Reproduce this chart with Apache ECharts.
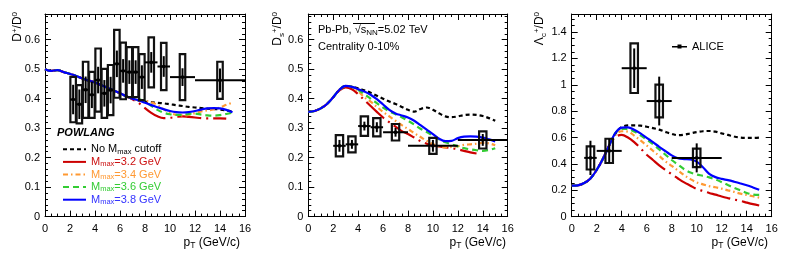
<!DOCTYPE html>
<html><head><meta charset="utf-8">
<script src="https://cdn.jsdelivr.net/npm/echarts@6/dist/echarts.min.js"></script>
<style>html,body{margin:0;padding:0;background:#fff}#c{width:789px;height:260px}</style>
</head><body><div id="c"></div>
<script>
// ---------------- data ----------------
const pt = [0,0.5,1,1.5,2,2.5,3,3.5,4,4.5,5,5.5,6,6.5,7,7.5,8,8.5,9,9.5,10,10.5,11,11.5,12,12.5,13,13.5,14,14.5,15];
const xTicks = [0,2,4,6,8,10,12,14,16];

// Panel 1: D+/D0 POWLANG
const p1NoCut = [0.500,0.494,0.497,0.490,0.484,0.477,0.468,0.461,0.455,0.446,0.437,0.428,0.418,0.408,0.400,0.394,0.390,0.388,0.386,0.384,0.381,0.378,0.375,0.372,0.370,0.368,0.366,0.365,0.363,0.360,0.356];
const p1M32   = [0.500,0.494,0.497,0.490,0.484,0.477,0.468,0.461,0.455,0.446,0.437,0.428,0.418,0.408,0.398,0.385,0.368,0.352,0.340,0.334,0.335,0.338,0.340,0.338,0.336,0.334,0.333,0.333,0.333,0.332,null];
const p1M34   = [0.500,0.494,0.497,0.490,0.484,0.477,0.468,0.461,0.455,0.446,0.437,0.428,0.418,0.408,0.400,0.392,0.392,0.388,0.378,0.364,0.352,0.345,0.343,0.345,0.351,0.357,0.360,0.363,0.370,0.379,0.386];
const p1M36   = [0.500,0.494,0.497,0.490,0.484,0.477,0.468,0.461,0.455,0.446,0.437,0.428,0.418,0.408,0.402,0.398,0.390,0.376,0.362,0.352,0.347,0.345,0.345,0.348,0.349,0.346,0.343,0.342,0.344,0.348,0.352];
const p1M38   = [0.500,0.494,0.497,0.490,0.484,0.477,0.468,0.461,0.455,0.446,0.437,0.428,0.418,0.408,0.400,0.394,0.386,0.378,0.371,0.364,0.358,0.354,0.353,0.354,0.358,0.363,0.367,0.368,0.367,0.362,0.354];

// Panel 2: Ds+/D0 POWLANG
const p2NoCut = [0.355,0.358,0.367,0.382,0.405,0.430,0.443,0.440,0.435,0.428,0.420,0.410,0.400,0.390,0.382,0.372,0.362,0.356,0.365,0.370,0.362,0.350,0.340,0.337,0.340,0.344,0.346,0.345,0.341,0.334,0.325];
const p2M32   = [0.355,0.358,0.367,0.382,0.405,0.428,0.438,0.432,0.415,0.395,0.375,0.355,0.336,0.320,0.305,0.290,0.280,0.268,0.256,0.247,0.241,0.238,0.235,0.232,0.228,0.223,0.218,0.214,null,null,null];
const p2M34   = [0.355,0.358,0.367,0.382,0.405,0.430,0.443,0.440,0.425,0.405,0.390,0.372,0.355,0.340,0.325,0.310,0.297,0.283,0.270,0.257,0.246,0.238,0.235,0.236,0.239,0.243,0.245,0.247,0.250,0.248,0.242];
const p2M36   = [0.355,0.358,0.367,0.382,0.405,0.430,0.443,0.440,0.430,0.415,0.400,0.385,0.370,0.357,0.347,0.337,0.325,0.312,0.298,0.287,0.274,0.262,0.252,0.245,0.238,0.232,0.228,0.225,0.223,0.226,0.232];
const p2M38   = [0.355,0.358,0.367,0.382,0.405,0.430,0.443,0.440,0.432,0.424,0.413,0.398,0.380,0.362,0.350,0.343,0.336,0.325,0.310,0.295,0.280,0.264,0.256,0.257,0.266,0.271,0.272,0.271,0.268,0.262,0.255];

// Panel 3: Lambda_c+/D0 POWLANG
const p3NoCut = [0.235,0.238,0.255,0.290,0.355,0.440,0.540,0.630,0.680,0.692,0.693,0.690,0.682,0.672,0.660,0.643,0.628,0.618,0.622,0.632,0.642,0.648,0.650,0.645,0.632,0.620,0.608,0.600,0.598,0.598,0.600];
const p3M32   = [0.235,0.238,0.255,0.290,0.355,0.440,0.540,0.605,0.620,0.600,0.565,0.520,0.470,0.430,0.390,0.355,0.322,0.290,0.260,0.235,0.210,0.195,0.180,0.167,0.153,0.141,0.130,0.120,0.107,0.095,0.085];
const p3M34   = [0.235,0.238,0.255,0.290,0.355,0.440,0.540,0.620,0.648,0.645,0.615,0.578,0.540,0.500,0.460,0.420,0.385,0.350,0.315,0.285,0.260,0.245,0.232,0.223,0.213,0.200,0.188,0.175,0.165,0.155,0.145];
const p3M36   = [0.235,0.238,0.255,0.290,0.355,0.440,0.540,0.635,0.665,0.665,0.645,0.618,0.585,0.550,0.510,0.470,0.430,0.395,0.360,0.335,0.320,0.310,0.298,0.282,0.262,0.240,0.218,0.200,0.180,0.168,0.165];
const p3M38   = [0.235,0.238,0.255,0.290,0.355,0.440,0.540,0.635,0.675,0.678,0.660,0.632,0.598,0.565,0.530,0.497,0.465,0.443,0.437,0.434,0.418,0.375,0.325,0.300,0.287,0.277,0.265,0.252,0.238,0.222,0.205];

// ALICE data: D+/D0
const dpLo   = [2,2.5,3,3.5,4,4.5,5,5.5,6,6.5,7,7.5,8,9,10,12];
const dpHi   = [2.5,3,3.5,4,4.5,5,5.5,6,6.5,7,7.5,8,9,10,12,16];
const dpVal  = [0.397,0.381,0.430,0.413,0.463,0.418,0.429,0.518,0.494,0.490,0.490,0.473,0.523,0.509,0.473,0.462];
const dpStat = [0.050,0.050,0.045,0.045,0.045,0.045,0.045,0.045,0.040,0.040,0.040,0.040,0.035,0.035,0.030,0.040];
const dpSyst = [0.077,0.065,0.095,0.078,0.107,0.083,0.085,0.115,0.096,0.085,0.085,0.078,0.085,0.080,0.078,0.063];
// ALICE data: Ds+/D0
const dsLo   = [2,3,4,5,6,8,12];
const dsHi   = [3,4,5,6,8,12,16];
const dsVal  = [0.240,0.245,0.307,0.303,0.286,0.240,0.260];
const dsStat = [0.020,0.015,0.015,0.017,0.015,0.020,0.020];
const dsSyst = [0.036,0.027,0.033,0.031,0.028,0.027,0.029];
// ALICE data: Lc+/D0
const lcLo   = [1,2,4,6,8];
const lcHi   = [2,4,6,8,12];
const lcVal  = [0.446,0.499,1.126,0.877,0.446];
const lcStat = [0.130,0.090,0.150,0.185,0.110];
const lcSyst = [0.088,0.092,0.188,0.124,0.070];

const seriesNames = ['No Mmax cutoff','Mmax=3.2 GeV','Mmax=3.4 GeV','Mmax=3.6 GeV','Mmax=3.8 GeV'];

// ---------------- style ----------------
const FONT = '"Liberation Sans", Arial, Helvetica, sans-serif';
const COLORS = ['#000000','#cc0000','#ff9933','#33cc33','#0000ff'];
const TEXTCOL = ['#000000','#cc1111','#ff9933','#33cc33','#3333ff'];
const DASH = [[4,3],[24,5,2,5],[5,3,1.5,3],[6,4],'solid'];
const grids = [
  {left:45, top:14, width:200, height:202.6},
  {left:308.3, top:14, width:199.4, height:202.6},
  {left:571.7, top:14, width:200, height:202.7}
];
const yMaxes = [0.687, 0.687, 1.537];
const yInts = [0.1, 0.1, 0.2];
const yMinor = [5, 5, 4];
const boxW = [0.44, 0.59, 0.6];

const chart = echarts.init(document.getElementById('c'), null, {renderer:'canvas'});

const xAxes = [], yAxes = [];
grids.forEach((g, gi) => {
  const common = {
    gridIndex: gi, type:'value', min:0, max:16, interval:2,
    axisLine:{show:true, onZero:false, lineStyle:{color:'#000', width:1}},
    axisTick:{show:true, inside:true, length:6, lineStyle:{color:'#000'}},
    minorTick:{show:true, splitNumber:4, length:3, lineStyle:{color:'#000'}},
    splitLine:{show:false}
  };
  xAxes.push(Object.assign({}, common, {position:'bottom',
    axisLabel:{color:'#000', fontSize:11, fontFamily:FONT, margin:7}}));
  xAxes.push(Object.assign({}, common, {position:'top', axisLabel:{show:false}}));
  const iv = yInts[gi];
  const fmt = v => (Math.abs(v/iv - Math.round(v/iv)) < 1e-6) ? String(+v.toFixed(1)) : '';
  const yc = {
    gridIndex: gi, type:'value', min:0, max:yMaxes[gi], interval:iv,
    axisLine:{show:true, onZero:false, lineStyle:{color:'#000', width:1}},
    axisTick:{show:true, inside:true, length:6, lineStyle:{color:'#000'}},
    minorTick:{show:true, splitNumber:yMinor[gi], length:3, lineStyle:{color:'#000'}},
    splitLine:{show:false}
  };
  yAxes.push(Object.assign({}, yc, {position:'left',
    axisLabel:{color:'#000', fontSize:11, fontFamily:FONT, margin:5, formatter:fmt, showMaxLabel:false}}));
  yAxes.push(Object.assign({}, yc, {position:'right', axisLabel:{show:false}}));
});

const curveSets = [
  [p1NoCut,p1M32,p1M34,p1M36,p1M38],
  [p2NoCut,p2M32,p2M34,p2M36,p2M38],
  [p3NoCut,p3M32,p3M34,p3M36,p3M38]
];
const dataSets = [
  [dpLo,dpHi,dpVal,dpStat,dpSyst],
  [dsLo,dsHi,dsVal,dsStat,dsSyst],
  [lcLo,lcHi,lcVal,lcStat,lcSyst]
];

function makeRenderer(bw) {
  return function(params, api) {
    const lo = api.value(0), hi = api.value(1), v = api.value(2), st = api.value(3), sy = api.value(4);
    const c = (lo + hi) / 2;
    const b1 = api.coord([c - bw/2, v + sy]);
    const b2 = api.coord([c + bw/2, v - sy]);
    const s1 = api.coord([c, v + st]), s2 = api.coord([c, v - st]);
    const h1 = api.coord([lo, v]), h2 = api.coord([hi, v]);
    const m = api.coord([c, v]);
    return {type:'group', children:[
      {type:'rect', shape:{x:b1[0], y:b1[1], width:b2[0]-b1[0], height:b2[1]-b1[1]},
        style:{stroke:'#111', lineWidth:2.2, fill:'none'}},
      {type:'line', shape:{x1:s1[0], y1:s1[1], x2:s2[0], y2:s2[1]}, style:{stroke:'#000', lineWidth:2}},
      {type:'line', shape:{x1:h1[0], y1:h1[1], x2:h2[0], y2:h2[1]}, style:{stroke:'#000', lineWidth:2}},
      {type:'rect', shape:{x:m[0]-1.5, y:m[1]-1.5, width:3, height:3}, style:{fill:'#000'}}
    ]};
  };
}

const series = [];
curveSets.forEach((set, gi) => {
  set.forEach((arr, k) => {
    series.push({
      name: seriesNames[k], type:'line', xAxisIndex: 2*gi, yAxisIndex: 2*gi,
      data: pt.map((p, i) => [p, arr[i]]),
      smooth: 0.35, symbol:'none', showSymbol:false, connectNulls:false,
      lineStyle:{color:COLORS[k], width:2.2, type:DASH[k]},
      itemStyle:{color:COLORS[k]},
      z: 2, animation:false
    });
  });
  const d = dataSets[gi];
  series.push({
    name:'ALICE', type:'custom', xAxisIndex: 2*gi, yAxisIndex: 2*gi,
    renderItem: makeRenderer(boxW[gi]),
    data: d[0].map((lo, i) => [lo, d[1][i], d[2][i], d[3][i], d[4][i]]),
    encode:{x:[0,1], y:2},
    itemStyle:{color:'#000'}, z: 3, animation:false
  });
});

// rich text styles
const rich = {
  m:{fontSize:11, fontFamily:FONT, color:'#000', lineHeight:14},
  t:{fontSize:12, fontFamily:FONT, color:'#000', lineHeight:15},
  sup:{fontSize:8, fontFamily:FONT, color:'#000', verticalAlign:'top', lineHeight:9},
  sub:{fontSize:8, fontFamily:FONT, color:'#000', verticalAlign:'bottom', lineHeight:9},
  tsub:{fontSize:8.5, fontFamily:FONT, color:'#000', verticalAlign:'bottom', lineHeight:9}
};
const legRich = {};
TEXTCOL.forEach((c, k) => {
  legRich['a'+k] = {fontSize:11, fontFamily:FONT, color:c, lineHeight:12.6};
  legRich['b'+k] = {fontSize:7.5, fontFamily:FONT, color:c, verticalAlign:'bottom', lineHeight:8};
});
const legFmt = {};
legFmt[seriesNames[0]] = '{a0|No M}{b0|max}{a0| cutoff}';
legFmt[seriesNames[1]] = '{a1|M}{b1|max}{a1|=3.2 GeV}';
legFmt[seriesNames[2]] = '{a2|M}{b2|max}{a2|=3.4 GeV}';
legFmt[seriesNames[3]] = '{a3|M}{b3|max}{a3|=3.6 GeV}';
legFmt[seriesNames[4]] = '{a4|M}{b4|max}{a4|=3.8 GeV}';

function txt(x, y, text, opts) {
  return Object.assign({type:'text', x:x, y:y, silent:true,
    style:Object.assign({text:text, rich:rich, font:'11px '+FONT, fill:'#000'}, opts && opts.style)},
    opts && opts.extra);
}

const graphics = [
  // y-axis titles
  txt(18, 12, '{t|D}{sup|+}{t|/D}{sup|0}', {style:{align:'right', verticalAlign:'middle'}, extra:{rotation:Math.PI/2}}),
  txt(278, 12, '{t|D}{sub|s}{sup|+}{t|/D}{sup|0}', {style:{align:'right', verticalAlign:'middle'}, extra:{rotation:Math.PI/2}}),
  txt(540, 12, '{t|Λ}{sub|c}{sup|+}{t|/D}{sup|0}', {style:{align:'right', verticalAlign:'middle'}, extra:{rotation:Math.PI/2}}),
  // x-axis titles
  txt(240, 243, '{t|p}{tsub|T}{t| (GeV/c)}', {style:{align:'right', verticalAlign:'middle'}}),
  txt(506, 243, '{t|p}{tsub|T}{t| (GeV/c)}', {style:{align:'right', verticalAlign:'middle'}}),
  txt(768, 243, '{t|p}{tsub|T}{t| (GeV/c)}', {style:{align:'right', verticalAlign:'middle'}}),
  // annotations
  {type:'text', x:57, y:132.5, silent:true, style:{text:'POWLANG', font:'italic bold 11px '+FONT, fill:'#000', verticalAlign:'middle'}},
  txt(318, 30, '{m|Pb-Pb, √}{m|s}{sub|NN}{m|=5.02 TeV}', {style:{verticalAlign:'middle'}}),
  {type:'line', silent:true, shape:{x1:353, y1:23.5, x2:375, y2:23.5}, style:{stroke:'#000', lineWidth:1}},
  txt(318, 47, '{m|Centrality 0-10%}', {style:{verticalAlign:'middle'}})
];

chart.setOption({
  animation:false,
  backgroundColor:'#fff',
  grid: grids.map(g => Object.assign({containLabel:false}, g)),
  xAxis: xAxes,
  yAxis: yAxes,
  legend: [
    {left:57, top:138, orient:'vertical', itemWidth:23, itemHeight:10, itemGap:0,
     data: seriesNames, selectedMode:false,
     itemStyle:{opacity:0},
     formatter: n => legFmt[n],
     textStyle:{fontSize:11, fontFamily:FONT, lineHeight:12.6, rich:legRich}},
    {left:667, top:36, orient:'vertical', itemWidth:15, itemHeight:7, selectedMode:false,
     data:[{name:'ALICE', icon:'path://M0,3H15V4.4H0Z M5.5,1.5H9.5V5.5H5.5Z', itemStyle:{color:'#000'}}],
     textStyle:{fontSize:11, fontFamily:FONT, color:'#000'}}
  ],
  series: series,
  graphic: graphics
});
</script>
</body></html>
